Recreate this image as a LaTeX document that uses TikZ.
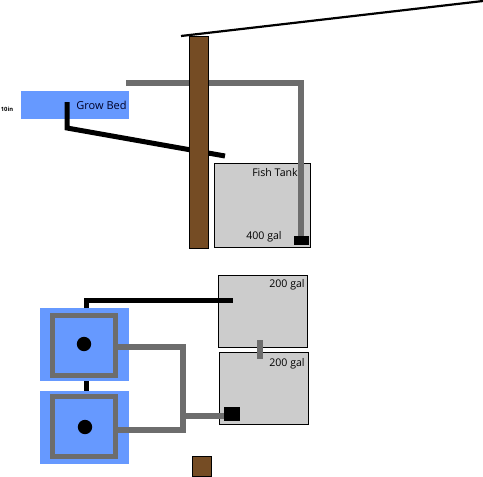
\documentclass[tikz,border=0pt]{standalone}
\usepackage{fontspec}
\setmainfont{Open Sans}
\definecolor{bedblue}{HTML}{6699FF}
\definecolor{pipegray}{HTML}{6D6D6D}
\definecolor{tankgray}{HTML}{CCCCCC}
\definecolor{postbrown}{HTML}{754C24}
\tikzset{
  x=1pt,y=-1pt,
  bed/.style={fill=bedblue,draw=none},
  tank/.style={fill=tankgray,draw=black,line width=1pt},
  post/.style={fill=postbrown,draw=black,line width=1pt},
  gpipe/.style={draw=pipegray,line width=5.5pt,line cap=butt,line join=miter},
  bpipe/.style={draw=black,line width=5pt,line cap=butt,line join=miter},
  pump/.style={fill=black,draw=none},
  lab/.style={inner sep=0pt,text=black,font=\fontsize{10.6}{12}\selectfont}
}
\begin{document}
\begin{tikzpicture}
\useasboundingbox (0,0) rectangle (483,477);
% top section
\draw[black,line width=2.2pt] (181,36) -- (483,1);
\fill[bed] (21,91) rectangle (129,119);
\node[lab,anchor=center,text=black!85!blue,font=\fontsize{11}{12}\selectfont] (growlabel) at (101.5,105) {Grow Bed};
\node[lab,anchor=center,font=\bfseries\fontsize{5.8}{6}\selectfont] (tenin) at (7,109) {10in};
\draw[tank] (214.5,163.5) rectangle (310.5,247.5);
\draw[gpipe] (126,83) -- (301,83) -- (301,237);
\draw[bpipe] (67,102) -- (67,128) -- (225,156);
\draw[post] (189.5,36.5) rectangle (208.5,248);
\fill[pump] (294,236) rectangle (309,245);
\node[lab] (fishlabel) at (275,173) {Fish Tank};
\node[lab] (gal400) at (264,237) {400 gal};
% bottom section
\fill[bed] (40,308) rectangle (129,381);
\fill[bed] (40,391) rectangle (129,464);
\draw[tank] (218.5,275.5) rectangle (307.5,347.5);
\draw[tank] (219.5,352.5) rectangle (308.5,424.5);
\draw[gpipe] (52.5,315.5) rectangle (115.5,375.5);
\draw[gpipe] (52.5,396.5) rectangle (115.5,456.5);
\fill[black] (84,344) circle (7.2);
\fill[black] (85,427) circle (7.2);
\draw[bpipe] (86.5,308) -- (86.5,300.5) -- (233,300.5);
\draw[bpipe] (86.5,381) -- (86.5,391);
\draw[gpipe] (118,347) -- (183,347) -- (183,430) -- (118,430);
\draw[gpipe] (183,416) -- (225,416);
\draw[draw=pipegray,line width=6pt] (260,340) -- (260,359);
\fill[pump] (224,407) rectangle (240,421);
\draw[post] (192.5,456.5) rectangle (211.5,476.5);
\node[lab] (gal200a) at (287,285) {200 gal};
\node[lab] (gal200b) at (287,364) {200 gal};
\end{tikzpicture}
\end{document}
